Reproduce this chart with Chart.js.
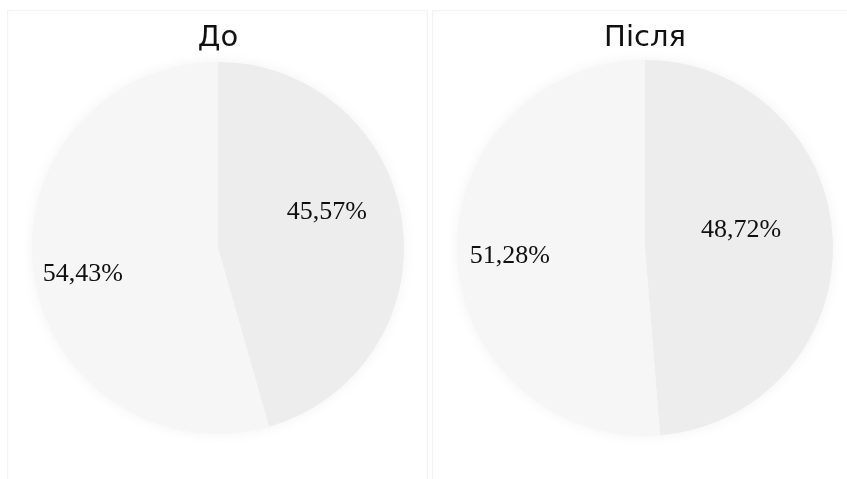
<!DOCTYPE html>
<html>
<head>
<meta charset="utf-8">
<script src="https://cdn.jsdelivr.net/npm/chart.js@4/dist/chart.umd.min.js"></script>
<style>
  body { margin: 0; background: #fff; width: 847px; height: 479px; overflow: hidden; position: relative; }
  .panel { position: absolute; top: 10px; height: 480px; border: 1px solid #f3f3f3; box-shadow: inset 0 0 6px rgba(0,0,0,0.025); box-sizing: border-box; }
  canvas { position: absolute; }
</style>
</head>
<body>
<div class="panel" style="left:7px;width:421px"></div>
<div class="panel" style="left:432px;width:420px"></div>
<canvas id="chart-before" width="420" height="469" style="left:8px;top:10px"></canvas>
<canvas id="chart-after" width="413" height="469" style="left:434px;top:10px"></canvas>
<script>
// data
var titles = ['До', 'Після'];
var beforeValues = [45.57, 54.43];
var afterValues = [48.72, 51.28];
var sliceColors = ['#ededed', '#f6f6f6'];

// labels drawn inside the slices, e.g. 45,57%
var sliceLabels = {
  id: 'sliceLabels',
  afterDatasetsDraw: function(chart, args, opts) {
    var ctx = chart.ctx;
    var meta = chart.getDatasetMeta(0);
    var values = chart.data.datasets[0].data;
    ctx.save();
    ctx.font = '26px "Liberation Serif", "Times New Roman", serif';
    ctx.fillStyle = '#111';
    ctx.textAlign = 'center';
    ctx.textBaseline = 'middle';
    meta.data.forEach(function(arc, i) {
      var p = arc.getProps(['x', 'y', 'startAngle', 'endAngle', 'outerRadius'], true);
      var mid = (p.startAngle + p.endAngle) / 2 + (opts.shift[i] || 0) * Math.PI / 180;
      var r = p.outerRadius * opts.radius[i];
      var txt = values[i].toFixed(2).replace('.', ',') + '%';
      ctx.fillText(txt, p.x + Math.cos(mid) * r, p.y + Math.sin(mid) * r);
    });
    ctx.restore();
  }
};

// soft glow round the whole pie, drawn once behind the slices
var pieShadow = {
  id: 'pieShadow',
  beforeDatasetsDraw: function(chart) {
    var arc = chart.getDatasetMeta(0).data[0];
    if (!arc) return;
    var p = arc.getProps(['x', 'y', 'outerRadius'], true);
    var ctx = chart.ctx;
    ctx.save();
    ctx.shadowColor = 'rgba(0,0,0,0.05)';
    ctx.shadowBlur = 14;
    ctx.fillStyle = '#f6f6f6';
    ctx.beginPath();
    ctx.arc(p.x, p.y, p.outerRadius, 0, Math.PI * 2);
    ctx.fill();
    ctx.restore();
  }
};

function makePie(id, title, values, pad, titlePad, labelOpts) {
  return new Chart(document.getElementById(id), {
    type: 'pie',
    data: {
      labels: ['A', 'B'],
      datasets: [{
        data: values,
        backgroundColor: sliceColors,
        borderWidth: 0
      }]
    },
    options: {
      responsive: false,
      animation: false,
      layout: { padding: pad },
      plugins: {
        legend: { display: false },
        tooltip: { enabled: false },
        title: {
          display: true,
          text: title,
          color: '#111',
          font: { family: '"DejaVu Sans", Verdana, sans-serif', size: 29, weight: 'normal' },
          padding: titlePad
        },
        sliceLabels: labelOpts
      }
    },
    plugins: [pieShadow, sliceLabels]
  });
}

var chartBefore = makePie('chart-before', titles[0], beforeValues,
  { left: 24, right: 24, bottom: 45, top: 0 }, { top: 11, bottom: 6 },
  { radius: [0.615, 0.74], shift: [-10, -3] });
var chartAfter = makePie('chart-after', titles[1], afterValues,
  { left: 23, right: 14, bottom: 43, top: 0 }, { top: 11, bottom: 4 },
  { radius: [0.52, 0.72], shift: [-8, -1] });
</script>
</body>
</html>
